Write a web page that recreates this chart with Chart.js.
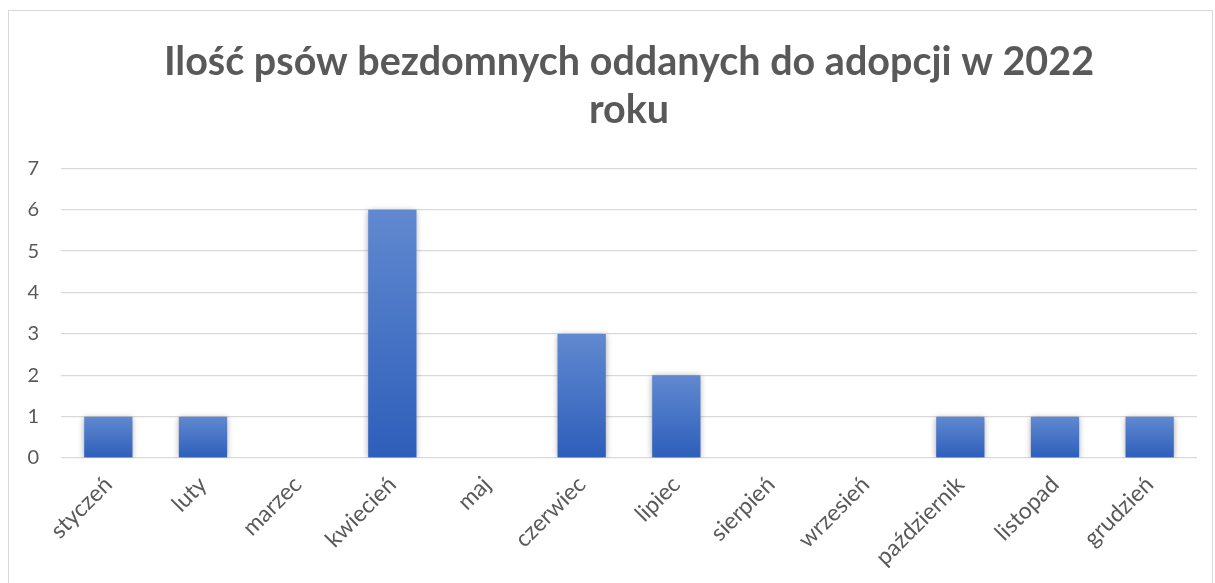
<!DOCTYPE html>
<html>
<head>
<meta charset="utf-8">
<script src="https://cdn.jsdelivr.net/npm/chart.js@4"></script>
<style>
  html, body { margin: 0; padding: 0; background: #fff; overflow: hidden; }
  #frame { position: absolute; left: 8px; top: 10px; width: 1203px; height: 600px; border: 1px solid #D9D9D9; box-sizing: content-box; }
  #wrap { position: absolute; left: 0; top: 0; width: 1203px; height: 572px; }
</style>
</head>
<body>
<div id="frame"><div id="wrap"><canvas id="c"></canvas></div></div>
<script>
const titleLines = ['Ilość psów bezdomnych oddanych do adopcji w 2022', 'roku'];
const months = ['styczeń', 'luty', 'marzec', 'kwiecień', 'maj', 'czerwiec', 'lipiec', 'sierpień', 'wrzesień', 'październik', 'listopad', 'grudzień'];
const adopted = [1, 1, 0, 6, 0, 3, 2, 0, 0, 1, 1, 1];
const yTicks = [0, 1, 2, 3, 4, 5, 6, 7];

const textColor = '#595959';
const fontFamily = 'Lato, "Open Sans", sans-serif';

function barGradient(ctx) {
  const chart = ctx.chart;
  if (!chart.chartArea || ctx.type !== 'data') return '#4472C4';
  const y = chart.scales.y;
  const top = y.getPixelForValue(ctx.raw);
  const bottom = y.getPixelForValue(0);
  if (!isFinite(top) || !isFinite(bottom) || top === bottom) return '#4472C4';
  const g = chart.ctx.createLinearGradient(0, top, 0, bottom);
  g.addColorStop(0, '#6189D0');
  g.addColorStop(1, '#2D5EBA');
  return g;
}

const shadowPlugin = {
  id: 'barShadow',
  beforeDatasetsDraw(chart) {
    const c = chart.ctx;
    c.save();
    c.shadowColor = 'rgba(0,0,0,0.35)';
    c.shadowBlur = 6;
    c.shadowOffsetX = 0;
    c.shadowOffsetY = 1;
  },
  afterDatasetsDraw(chart) {
    chart.ctx.restore();
  }
};

new Chart(document.getElementById('c'), {
  type: 'bar',
  data: {
    labels: months,
    datasets: [{
      label: 'Ilość',
      data: adopted,
      backgroundColor: barGradient,
      borderWidth: 0,
      categoryPercentage: 1.0,
      barPercentage: 0.51
    }]
  },
  options: {
    responsive: true,
    maintainAspectRatio: false,
    animation: false,
    layout: { padding: { left: 0, right: 15, top: 0, bottom: 0 } },
    plugins: {
      legend: { display: false },
      tooltip: { enabled: false },
      title: {
        display: true,
        fullSize: false,
        text: titleLines,
        color: textColor,
        font: { family: fontFamily, size: 39.5, weight: 'bold', lineHeight: 1.22 },
        padding: { top: 27, bottom: 34 }
      }
    },
    scales: {
      x: {
        grid: { display: false, drawTicks: false },
        border: { display: false },
        ticks: {
          color: textColor,
          font: { family: fontFamily, size: 23 },
          autoSkip: false,
          minRotation: 45,
          maxRotation: 45,
          padding: 13
        },
        afterFit(scale) { scale.height = 125; }
      },
      y: {
        min: 0,
        max: 7,
        afterBuildTicks(scale) { scale.ticks = yTicks.map(v => ({ value: v })); },
        grid: { color: '#D9D9D9', lineWidth: 1.3, drawTicks: false },
        border: { display: false },
        ticks: {
          color: textColor,
          font: { family: fontFamily, size: 20 },
          padding: 22
        },
        afterFit(scale) { scale.width = 52; }
      }
    }
  },
  plugins: [shadowPlugin]
});
</script>
</body>
</html>
